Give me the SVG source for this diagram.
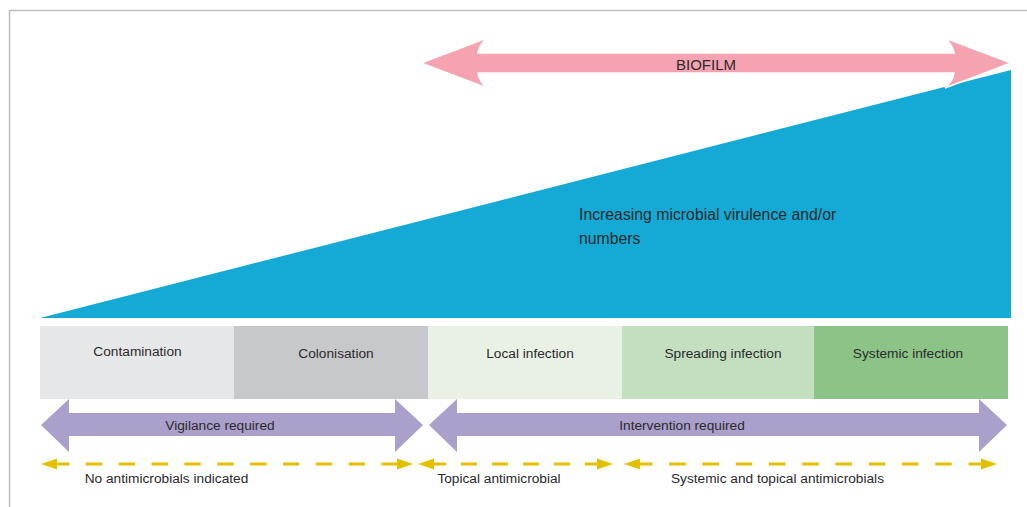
<svg xmlns="http://www.w3.org/2000/svg" width="1027" height="507" viewBox="0 0 1027 507">
<style>
  .t { font-family: "Liberation Sans", Arial, sans-serif; fill: #2b2a2c; }
  .lbl { font-size: 13.7px; text-anchor: middle; }
  .dash { stroke: #e4c000; stroke-width: 3; fill: none; }
  .head { fill: #e4c000; }
  .purple { fill: #ab9fcb; }
</style>
<rect x="0" y="0" width="1027" height="507" fill="#ffffff"/>
<path d="M9.5,507 L9.5,10.5 L1027,10.5" fill="none" stroke="#bdbdbd" stroke-width="1.5"/>

<g id="wedge">
  <polygon points="40,318 1011,70 1011,318" fill="#14aad5"/>
  <text class="t" x="579" y="220" font-size="15.8">Increasing microbial virulence and/or</text>
  <text class="t" x="579" y="244" font-size="15.8">numbers</text>
</g>

<g id="biofilm">
  <path d="M421,63 L487,38 Q479,45 478,53 L954,53 Q953,45 945,38 L1011,63 L945,88 Q953,81 954,73 L478,73 Q479,81 487,88 Z" fill="#f5a3b1" stroke="#ffffff" stroke-width="1.5"/>
  <text class="t" x="706" y="69.5" font-size="15" text-anchor="middle">BIOFILM</text>
</g>

<g id="stage-contamination">
  <rect x="40" y="326" width="194" height="73" fill="#e6e7e8"/>
  <text class="t lbl" x="137.5" y="356">Contamination</text>
</g>
<g id="stage-colonisation">
  <rect x="234" y="326" width="194" height="73" fill="#c7c8ca"/>
  <text class="t lbl" x="336" y="358">Colonisation</text>
</g>
<g id="stage-local">
  <rect x="428" y="326" width="194" height="73" fill="#e8f1e4"/>
  <text class="t lbl" x="530" y="358">Local infection</text>
</g>
<g id="stage-spreading">
  <rect x="622" y="326" width="193" height="73" fill="#c3dfbf"/>
  <text class="t lbl" x="723" y="358">Spreading infection</text>
</g>
<g id="stage-systemic">
  <rect x="814" y="326" width="194" height="73" fill="#8cc386"/>
  <text class="t lbl" x="908" y="358">Systemic infection</text>
</g>

<g id="connectors">
  <g id="vigilance">
    <path class="purple" d="M41,425 L69,399 L69,413 L395,413 L395,399 L423,425 L395,452 L395,436 L69,436 L69,452 Z"/>
    <text class="t lbl" x="220" y="429.5">Vigilance required</text>
  </g>
  <g id="intervention">
    <path class="purple" d="M429,425 L457,399 L457,413 L979,413 L979,399 L1007,425 L979,452 L979,436 L457,436 L457,452 Z"/>
    <text class="t lbl" x="682" y="429.5">Intervention required</text>
  </g>
  <g id="no-antimicrobials">
    <line class="dash" x1="53" y1="464" x2="398" y2="464" stroke-dasharray="16.4 16.45"/>
    <polygon class="head" points="41,464 57,458.5 57,469.5"/>
    <polygon class="head" points="413,464 397,458.5 397,469.5"/>
    <text class="t lbl" x="166.5" y="483">No antimicrobials indicated</text>
  </g>
  <g id="topical">
    <line class="dash" x1="430" y1="464" x2="601" y2="464" stroke-dasharray="16 15"/>
    <polygon class="head" points="418,464 434,458.5 434,469.5"/>
    <polygon class="head" points="613,464 597,458.5 597,469.5"/>
    <text class="t lbl" x="499" y="483">Topical antimicrobial</text>
  </g>
  <g id="systemic-topical">
    <line class="dash" x1="636" y1="464" x2="985" y2="464" stroke-dasharray="16.5 16.75"/>
    <polygon class="head" points="624,464 640,458.5 640,469.5"/>
    <polygon class="head" points="997,464 981,458.5 981,469.5"/>
    <text class="t lbl" x="777.5" y="483">Systemic and topical antimicrobials</text>
  </g>
</g>
</svg>
